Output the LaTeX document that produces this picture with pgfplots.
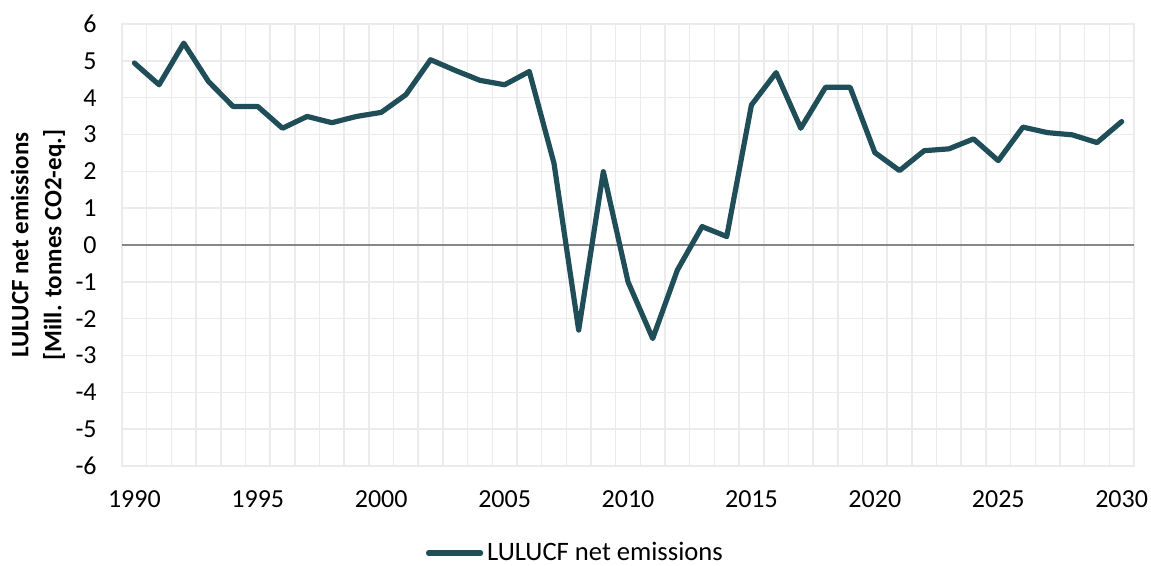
\documentclass[border=0pt]{standalone}
\usepackage{pgfplots}
\pgfplotsset{compat=1.18}
\usepackage{fontspec}
\setmainfont{Carlito}
\definecolor{linec}{HTML}{1F4E59}
\definecolor{gridc}{HTML}{EBEBEB}
\definecolor{zeroc}{HTML}{878787}
\begin{document}
\begin{tikzpicture}
\begin{axis}[
  scale only axis, width=506pt, height=221pt,
  xmin=1989.5, xmax=2030.5, ymin=-6, ymax=6,
  xtick={1990,1995,...,2030},
  minor xtick={1989.5,1990.5,...,2030.5},
  ytick={-6,-5,...,6},
  xmajorgrids=false, xminorgrids=true, ymajorgrids=true,
  grid style={gridc, line width=0.75pt},
  minor grid style={gridc, line width=0.75pt},
  axis line style={gridc, line width=0.75pt},
  major tick length=0pt, minor tick length=0pt,
  tick style={draw=none},
  extra y ticks={0}, extra y tick labels={},
  extra y tick style={grid style={zeroc, line width=0.6pt}},
  /pgf/number format/assume math mode=true,
  /pgf/number format/1000 sep={},
  ticklabel style={font=\fontsize{13}{15}\selectfont, inner sep=0pt},
  yticklabel style={xshift=-12.5pt},
  xticklabel style={yshift=-12pt},
  ylabel={LULUCF net emissions\\{[Mill. tonnes CO2-eq.]}},
  every axis y label/.style={at={(rel axis cs:-0.083,0.5)}, rotate=90, anchor=center,
    font=\bfseries\fontsize{12.5}{16.5}\selectfont, align=center},
  legend style={at={(0.449,-0.197)}, anchor=center, draw=none, fill=none,
    font=\fontsize{13.3}{15}\selectfont, inner sep=0pt},
  legend image code/.code={\draw[#1, line cap=round] (0pt,0pt) -- (26pt,0pt);},
]
\addplot[linec, line width=2.6pt, line join=round, line cap=round] coordinates {
(1990,4.94) (1991,4.35) (1992,5.48) (1993,4.44) (1994,3.76) (1995,3.76)
(1996,3.17) (1997,3.49) (1998,3.32) (1999,3.49) (2000,3.60) (2001,4.08)
(2002,5.03) (2003,4.74) (2004,4.47) (2005,4.35) (2006,4.71) (2007,2.22)
(2008,-2.31) (2009,1.99) (2010,-1.00) (2011,-2.54) (2012,-0.68) (2013,0.50)
(2014,0.23) (2015,3.80) (2016,4.68) (2017,3.17) (2018,4.28) (2019,4.28)
(2020,2.51) (2021,2.02) (2022,2.56) (2023,2.61) (2024,2.88) (2025,2.29)
(2026,3.20) (2027,3.05) (2028,2.99) (2029,2.78) (2030,3.35)
};
\addlegendentry{LULUCF net emissions}
\coordinate (bbsw) at (rel axis cs:-0.1206,-0.2262);
\coordinate (bbne) at (rel axis cs:1.0168,1.0543);
\end{axis}
\pgfresetboundingbox
\path[use as bounding box] (bbsw) rectangle (bbne);
\end{tikzpicture}
\end{document}
